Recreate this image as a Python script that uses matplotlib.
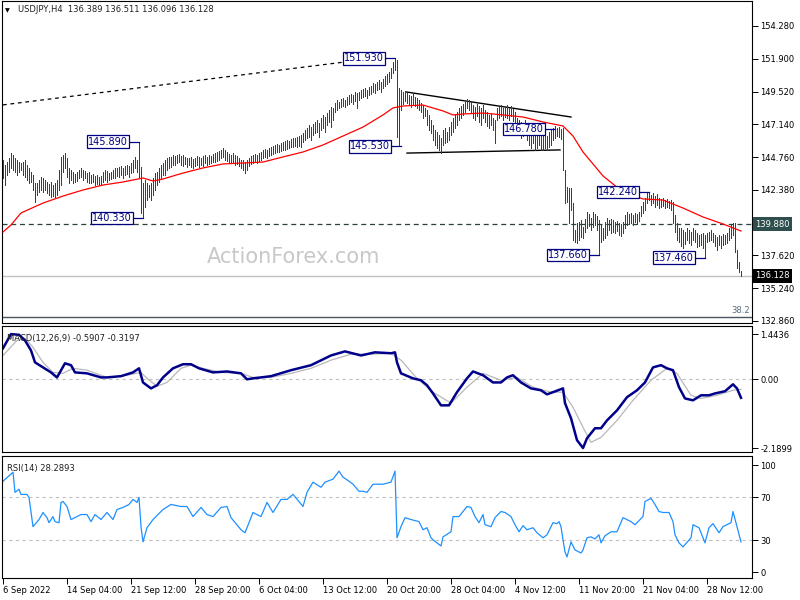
import numpy as np
import matplotlib
matplotlib.use("Agg")
import matplotlib.pyplot as plt

# ---------------- data ----------------
highs = [
 144.55,144.18,144.40,144.69,145.06,144.91,144.69,144.55,144.40,144.33,
 144.40,144.55,144.18,143.97,143.68,143.46,142.88,142.88,143.10,143.31,
 143.24,143.10,142.95,142.80,142.95,142.73,142.88,143.10,143.82,144.77,
 144.91,145.06,144.69,143.97,143.82,143.68,143.53,143.68,143.82,143.97,
 143.82,143.75,143.60,143.68,143.46,143.53,143.39,143.46,143.31,143.39,
 143.68,143.82,143.75,143.60,143.68,143.82,143.97,143.97,144.04,144.11,
 143.97,144.11,144.18,144.11,144.33,144.55,144.77,144.55,145.89,144.04,
 142.88,143.10,142.88,142.73,142.88,143.24,143.60,143.68,143.97,144.18,
 144.33,144.55,144.69,144.77,144.77,144.91,144.84,144.91,144.98,144.84,
 144.91,144.77,144.69,144.69,144.77,144.62,144.69,144.84,144.77,144.69,
 144.84,144.91,144.77,144.91,144.84,144.98,145.06,145.13,145.20,145.27,
 145.42,145.27,145.13,144.98,144.91,145.06,144.91,144.84,144.69,144.55,
 144.55,144.40,144.55,144.69,144.84,144.91,144.98,144.91,145.06,145.13,
 145.27,145.35,145.27,145.42,145.49,145.56,145.64,145.71,145.64,145.78,
 145.86,145.93,146.00,145.93,146.07,146.15,146.15,146.22,146.29,146.36,
 146.51,146.73,146.87,147.09,146.94,147.16,147.31,147.45,147.24,147.60,
 147.82,147.67,147.96,148.18,148.40,148.33,148.69,148.91,148.76,148.98,
 149.05,148.91,149.12,149.27,149.34,149.27,149.49,149.41,149.49,149.63,
 149.70,149.78,149.63,149.85,149.92,150.14,150.07,150.21,150.36,150.21,
 150.43,150.65,150.79,150.94,151.23,151.67,151.93,151.81,149.78,149.63,
 149.49,149.56,149.41,149.27,149.20,149.34,149.12,149.05,148.91,148.69,
 148.54,148.33,148.18,147.82,147.45,147.09,146.73,146.58,146.36,146.15,
 146.73,146.87,146.58,146.94,147.31,147.60,147.82,148.03,148.33,148.47,
 148.62,148.76,148.98,148.91,148.76,148.54,148.40,148.62,148.47,148.33,
 148.54,148.18,148.03,147.82,147.96,147.60,147.45,148.33,148.40,148.54,
 148.33,148.47,148.54,148.33,148.47,148.25,148.03,147.60,147.45,147.31,
 147.16,147.45,147.09,146.94,146.73,146.87,146.65,146.51,146.73,146.51,
 146.36,146.51,146.29,146.58,146.73,146.87,147.02,146.87,146.94,146.80,
 146.87,143.82,142.59,142.51,142.51,141.42,139.46,139.97,140.04,140.19,
 139.68,140.26,140.77,140.63,140.33,140.77,140.63,140.48,140.19,139.83,
 139.61,140.04,140.33,140.19,140.26,140.19,140.04,140.12,139.97,139.90,
 140.04,140.55,140.77,140.63,140.70,140.55,140.70,140.63,140.77,141.21,
 141.50,141.79,142.15,142.24,142.01,142.15,141.93,142.08,141.79,141.72,
 141.79,141.64,141.72,141.57,141.64,141.50,140.55,139.97,139.61,139.61,
 139.46,139.32,139.61,139.46,139.32,139.61,139.46,139.25,139.10,139.17,
 139.25,139.10,139.25,139.32,139.46,139.25,139.10,138.96,139.10,139.03,
 139.17,139.10,139.25,139.61,139.83,139.97,139.97,138.01,137.14,136.51]

lows = [
 143.24,142.73,143.46,143.68,143.97,143.82,143.68,143.46,143.68,143.82,
 143.46,143.31,143.10,142.88,142.95,142.37,141.50,142.01,142.22,142.37,
 142.22,142.37,142.15,142.01,141.86,141.93,141.86,142.01,142.37,142.73,
 143.68,143.97,143.31,142.88,143.10,142.88,142.95,143.02,143.24,143.31,
 143.10,143.24,142.95,142.88,142.88,142.95,142.73,142.80,142.73,142.80,
 142.95,143.10,142.95,143.10,143.17,143.24,143.24,143.39,143.31,143.46,
 143.24,143.46,143.53,143.31,143.60,143.68,143.97,143.68,143.31,140.70,
 140.33,141.13,141.64,141.86,141.64,142.01,142.37,142.73,142.95,143.24,
 143.46,143.46,143.82,143.97,144.04,144.18,144.18,144.33,144.40,144.18,
 144.11,144.26,144.04,144.18,144.04,143.97,144.11,144.18,144.04,144.18,
 144.11,144.33,144.18,144.26,144.33,144.40,144.40,144.48,144.55,144.69,
 144.77,144.55,144.48,144.40,144.33,144.40,144.18,144.26,144.11,143.97,
 143.82,143.60,143.82,144.11,144.26,144.33,144.40,144.33,144.48,144.55,
 144.69,144.77,144.69,144.84,144.91,144.98,145.06,145.13,145.13,145.20,
 145.27,145.27,145.35,145.42,145.49,145.49,145.56,145.49,145.56,145.49,
 145.86,146.00,146.15,146.22,146.00,146.36,146.51,146.58,146.22,146.73,
 146.87,146.58,147.09,147.31,146.94,147.45,148.03,148.18,148.33,148.40,
 148.47,148.40,148.54,148.62,148.76,148.62,148.83,148.33,148.91,149.05,
 149.12,149.20,149.05,149.27,149.34,149.49,149.41,149.63,149.70,149.49,
 149.78,149.92,150.07,150.21,150.50,150.87,151.08,146.22,145.53,148.18,
 148.62,148.83,148.69,148.54,148.40,148.62,148.47,148.33,148.18,148.03,
 147.60,147.74,147.09,146.73,146.51,146.00,145.64,145.42,145.27,145.06,
 145.64,145.78,145.86,146.00,146.36,146.58,146.87,147.09,147.45,147.60,
 147.82,148.03,148.33,148.18,148.03,147.60,147.45,147.74,147.31,147.09,
 147.60,147.31,147.02,146.87,147.09,146.73,145.78,147.45,147.60,147.74,
 147.45,147.67,147.60,147.45,147.74,147.38,147.16,146.58,146.36,146.15,
 146.29,146.51,146.00,145.64,145.42,145.78,145.27,145.42,145.64,145.27,
 145.27,145.42,145.27,145.49,145.64,146.00,146.15,146.29,146.22,146.07,
 143.82,141.42,141.50,139.97,140.92,138.74,138.59,138.52,138.74,138.96,
 138.88,139.32,139.61,139.75,139.46,139.68,139.83,139.46,137.66,138.59,
 138.74,138.88,139.10,139.46,139.25,139.32,139.25,139.39,139.10,139.03,
 139.25,139.61,139.83,139.90,139.97,139.83,140.04,139.90,140.12,140.48,
 140.70,140.92,141.42,141.64,141.28,141.42,141.13,141.28,141.06,141.13,
 141.21,141.06,141.13,141.06,140.92,139.97,139.32,138.74,138.59,138.30,
 138.16,138.45,138.74,138.52,138.38,138.74,138.59,138.23,138.30,138.38,
 138.16,137.46,138.59,138.67,138.74,138.59,138.30,138.01,138.38,138.16,
 138.38,138.45,138.52,138.74,138.88,139.10,137.87,136.71,136.42,136.10]

ma_bars = [0,4,9,20,30,40,50,60,70,75,80,90,100,110,120,130,140,150,160,170,
           180,190,195,200,210,220,225,230,240,250,260,270,280,285,290,300,310,
           320,330,340,350,360,369]
ma_vals = [139.32,139.83,140.70,141.42,141.93,142.37,142.73,142.95,143.24,143.02,
           143.17,143.60,143.97,144.26,144.33,144.40,144.77,145.13,145.64,146.29,
           146.94,147.82,148.33,148.47,148.54,148.11,147.82,147.89,147.96,147.82,
           147.67,147.31,147.02,146.29,145.13,143.39,142.22,141.72,141.64,141.06,
           140.41,139.90,139.39]

macd_bars = [0,4,8,11,14,16,20,24,27,31,
             34,36,42,49,52,59,65,68,70,74,
             77,80,85,90,94,98,105,112,119,122,
             125,129,134,144,154,164,171,179,186,194,
             196,197,199,205,209,212,215,219,223,227,
             232,235,240,245,249,252,255,259,264,269,
             272,275,280,281,284,287,290,292,296,299,
             302,307,312,317,321,325,329,332,335,338,
             341,345,349,353,356,361,365,367,369]
macd_vals = [0.99,1.44,1.42,1.24,0.92,0.54,0.38,0.22,0.06,0.51,
             0.45,0.22,0.19,0.06,0.06,0.10,0.22,0.35,-0.10,-0.29,
             -0.19,0.06,0.35,0.48,0.48,0.35,0.22,0.25,0.19,0.00,
             0.03,0.06,0.10,0.29,0.45,0.76,0.89,0.76,0.86,0.83,
             0.86,0.54,0.19,0.03,-0.03,-0.19,-0.45,-0.83,-0.83,-0.41,
             0.03,0.25,0.13,-0.10,-0.10,0.06,0.13,-0.10,-0.29,-0.35,
             -0.48,-0.41,-0.29,-0.76,-1.24,-1.94,-2.19,-1.88,-1.56,-1.56,
             -1.31,-0.99,-0.57,-0.35,-0.10,0.38,0.45,0.35,0.29,-0.25,
             -0.61,-0.67,-0.51,-0.51,-0.45,-0.38,-0.16,-0.29,-0.59]

signal_bars = [0,7,11,15,20,25,30,35,42,52,
               62,69,72,77,82,89,94,100,109,119,
               125,134,144,154,164,174,184,194,199,207,
               215,224,232,240,249,257,265,274,280,285,
               290,294,299,307,315,324,332,337,344,349,
               357,365,369]
signal_vals = [0.76,1.24,1.31,1.02,0.54,0.22,0.19,0.35,0.29,0.06,
               0.13,0.22,0.03,-0.22,-0.10,0.35,0.45,0.35,0.22,0.19,
               0.06,0.06,0.19,0.35,0.61,0.80,0.80,0.83,0.61,0.03,
               -0.41,-0.76,-0.25,0.19,-0.03,0.06,-0.25,-0.41,-0.41,-0.89,
               -1.53,-2.01,-1.85,-1.31,-0.67,-0.03,0.35,0.19,-0.51,-0.61,
               -0.51,-0.35,-0.32]

rsi_bars = [0,4,5,6,8,9,12,13,15,18,
            20,22,23,25,26,28,29,30,32,34,
            37,39,42,44,46,49,52,55,57,60,
            63,65,67,68,69,70,72,75,80,84,
            89,92,95,99,102,105,109,112,114,119,
            121,125,129,132,135,139,142,145,150,152,
            155,159,161,165,168,170,173,175,178,180,
            182,185,190,194,196,197,199,201,204,208,
            210,212,214,215,219,220,224,225,228,230,
            232,234,236,238,240,241,244,246,249,251,
            254,256,258,260,262,265,267,270,272,275,
            277,278,279,280,281,282,284,286,289,290,
            292,294,296,298,299,301,304,307,310,314,
            316,320,321,324,326,328,330,333,335,336,
            338,340,344,345,348,351,353,355,358,360,
            362,364,365,367,369]
rsi_vals = [84.9,91.5,93.4,74.5,77.4,72.6,72.6,69.8,42.5,49.1,
            55.7,50.9,46.2,51.9,47.2,46.2,65.1,66.0,61.3,49.1,
            51.9,53.8,53.8,47.2,53.8,49.1,55.7,49.1,58.5,60.4,
            63.2,67.9,65.1,69.8,42.5,28.3,41.5,49.1,58.5,63.2,
            61.3,61.3,51.9,60.4,53.8,51.9,60.4,61.3,50.9,39.6,
            36.8,55.7,51.9,65.1,55.7,67.9,67.9,72.6,61.3,74.5,
            84.0,79.2,84.0,86.8,94.3,88.7,84.9,82.1,75.5,75.5,
            74.5,82.1,82.1,84.0,94.3,32.1,42.5,50.9,49.1,47.2,
            39.6,41.5,32.1,30.2,24.5,33.0,37.7,51.9,51.9,56.6,
            61.3,60.4,51.9,46.2,53.8,44.3,42.5,50.9,56.6,55.7,
            51.9,44.3,37.7,43.4,39.6,41.5,36.8,32.1,34.9,46.2,
            45.3,47.2,42.5,30.2,18.9,14.2,28.3,20.8,17.9,20.8,
            32.1,33.0,31.1,34.9,27.4,34.0,37.7,37.7,50.9,47.2,
            44.3,51.9,66.0,68.9,63.2,56.6,55.7,55.7,47.2,34.9,
            27.4,23.6,32.1,44.3,41.5,27.4,41.5,45.3,36.8,42.5,
            44.3,46.2,56.6,42.5,28.3]

price_ticks = [154.28, 151.90, 149.52, 147.14, 144.76, 142.38, 137.62, 135.24, 132.86]
macd_ticks = [1.4436, 0.0, -2.1899]
macd_tick_labels = ["1.4436", "0.00", "-2.1899"]
rsi_ticks = [100, 70, 30, 0]
rsi_levels = [70, 30]

date_bars = [0, 32, 64, 96, 128, 160, 192, 224, 256, 288, 320, 352]
date_labels = ["6 Sep 2022", "14 Sep 04:00", "21 Sep 12:00", "28 Sep 20:00",
               "6 Oct 04:00", "13 Oct 12:00", "20 Oct 20:00", "28 Oct 04:00",
               "4 Nov 12:00", "11 Nov 20:00", "21 Nov 04:00", "28 Nov 12:00"]

annot_bars = [68, 70, 196, 199, 276, 323, 298, 351]
annot_vals = [145.890, 140.330, 151.930, 145.530, 146.780, 142.240, 137.660, 137.460]

dashed_trend_bars = [0, 170]
dashed_trend_vals = [148.55, 151.65]
upper_trend_bars = [201.5, 284]
upper_trend_vals = [149.49, 147.67]
lower_trend_bars = [202, 278.5]
lower_trend_vals = [145.05, 145.28]

level_price = 139.880
last_price = 136.128
fib_price = 133.18
fib_label = "38.2"
ohlc_last = [136.389, 136.511, 136.096, 136.128]
macd_last = [-0.5907, -0.3197]
rsi_last = 28.2893

# ---------------- drawing ----------------
plt.rcParams['font.family'] = ['DejaVu Sans']
W, H = 800, 600
fig = plt.figure(figsize=(W / 100, H / 100), dpi=100)
fig.patch.set_facecolor('white')

def px_axes(x0, y0, x1, y1):
    return fig.add_axes([x0 / W, 1 - y1 / H, (x1 - x0) / W, (y1 - y0) / H])

BAR = '#1c4860'
NAVY = '#000080'
FS = 6

ax = px_axes(2, 1, 752, 323)
ax2 = px_axes(2, 326, 752, 452)
ax3 = px_axes(2, 456, 752, 578)

for a in (ax, ax2, ax3):
    a.set_xlim(-0.5, 374.5)
    a.set_facecolor('white')
    for s in a.spines.values():
        s.set_linewidth(0.8)
        s.set_color('black')
    a.yaxis.tick_right()
    a.tick_params(axis='y', direction='out', length=4, width=0.7, pad=2,
                  labelsize=FS, colors='black')
    a.tick_params(axis='x', bottom=False, labelbottom=False)

# main panel
n = len(highs)
idx = np.arange(n)
ax.set_ylim(132.71, 156.095)
ax.vlines(idx, lows, highs, color=BAR, lw=0.5, zorder=3, antialiased=False)
ax.plot(ma_bars, ma_vals, color='#ff0000', lw=0.9, zorder=4)
ax.axhline(level_price, color='#2f3f3f', lw=0.9, ls=(0, (4, 3)), zorder=2)
ax.axhline(last_price, color='#c0c0c0', lw=1.0, zorder=1)
ax.axhline(fib_price, color='#4a5560', lw=1.0, zorder=1)
ax.text(373.5, fib_price + 0.12, fib_label, ha='right', va='bottom',
        fontsize=FS, color='#5a6a7a')
ax.plot(dashed_trend_bars, dashed_trend_vals, color='black', lw=0.9,
        ls=(0, (3, 3)), zorder=2)
ax.plot(upper_trend_bars, upper_trend_vals, color='black', lw=1.0, zorder=2)
ax.plot(lower_trend_bars, lower_trend_vals, color='black', lw=1.0, zorder=2)

ax.text(0.389, 0.205, "ActionForex.com", transform=ax.transAxes, ha='center',
        va='center', fontsize=15, color='#c8c8c8', zorder=0)

for b, v in zip(annot_bars, annot_vals):
    xr = b - 5
    ax.plot([xr, b], [v, v], color=NAVY, lw=0.9, zorder=5)
    ax.text(xr - 0.6, v, f"{v:.3f}", ha='right', va='center', fontsize=7,
            color=NAVY, zorder=6,
            bbox=dict(boxstyle='square,pad=0.12', fc='white', ec=NAVY, lw=0.9))

ax.set_yticks(price_ticks)
ax.set_yticklabels([f"{t:.3f}" for t in price_ticks])
ytr = ax.get_yaxis_transform()
ax.text(1.004, level_price, f"{level_price:.3f}", transform=ytr, ha='left',
        va='center', fontsize=FS, color='white', clip_on=False,
        bbox=dict(boxstyle='square,pad=0.3', fc='#2f4f4f', ec='none'))
ax.text(1.004, last_price, f"{last_price:.3f}", transform=ytr, ha='left',
        va='center', fontsize=FS, color='white', clip_on=False,
        bbox=dict(boxstyle='square,pad=0.3', fc='black', ec='none'))

fig.text(5 / W, 1 - 10.5 / H, "\u25BC", fontsize=4.5, va='center', ha='left')
fig.text(18 / W, 1 - 10 / H,
         "USDJPY,H4  " + " ".join(f"{v:.3f}" for v in ohlc_last),
         fontsize=FS, va='center', ha='left', color='#202020')

# MACD panel
ax2.set_ylim(-2.317, 1.699)
ax2.axhline(0, color='#c0c0c0', lw=0.8, ls=(0, (3, 3)))
ax2.plot(signal_bars, signal_vals, color='#b8b8b8', lw=0.9)
ax2.plot(macd_bars, macd_vals, color='#00008b', lw=1.8)
ax2.set_yticks(macd_ticks)
ax2.set_yticklabels(macd_tick_labels)
ax2.text(0.007, 0.935, f"MACD(12,26,9) {macd_last[0]:.4f} {macd_last[1]:.4f}",
         transform=ax2.transAxes, fontsize=FS, va='top', ha='left', color='#202020')

# RSI panel
ax3.set_ylim(-5.4, 108.4)
for lv in rsi_levels:
    ax3.axhline(lv, color='#c0c0c0', lw=0.8, ls=(0, (3, 3)))
ax3.plot(rsi_bars, rsi_vals, color='#1e90ff', lw=0.9)
ax3.set_yticks(rsi_ticks)
ax3.set_yticklabels([str(t) for t in rsi_ticks])
ax3.text(0.007, 0.935, f"RSI(14) {rsi_last:.4f}", transform=ax3.transAxes,
         fontsize=FS, va='top', ha='left', color='#202020')
ax3.tick_params(axis='x', bottom=True, labelbottom=True, direction='out',
                length=4, width=0.7, pad=2, labelsize=FS)
ax3.set_xticks(date_bars)
ax3.set_xticklabels(date_labels)
for lab in ax3.get_xticklabels():
    lab.set_horizontalalignment('left')

fig.savefig("out.png", dpi=100)
